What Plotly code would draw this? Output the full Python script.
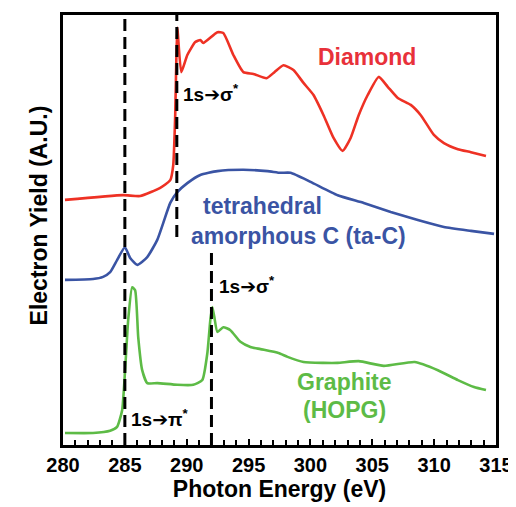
import plotly.graph_objects as go

# ---------------- data ----------------
diamond_e = [280.16, 284.86, 286.24, 287.86, 288.67, 288.91, 289.07, 289.15, 289.24, 289.56,
             290.05, 290.69, 291.10, 291.34, 292.48, 292.96, 293.77, 294.58, 295.39, 296.45,
             297.09, 297.82, 298.63, 299.44, 300.25, 301.06, 301.87, 302.60, 303.25, 303.90,
             304.63, 305.52, 306.25, 307.06, 308.11, 308.92, 309.98, 310.79, 311.92, 312.97, 314.19]
diamond_y = [0.570, 0.581, 0.579, 0.598, 0.616, 0.651, 0.767, 0.884, 0.970, 0.867,
             0.907, 0.937, 0.942, 0.935, 0.960, 0.958, 0.907, 0.867, 0.863, 0.853,
             0.867, 0.883, 0.872, 0.842, 0.814, 0.767, 0.714, 0.684, 0.714, 0.767,
             0.814, 0.856, 0.833, 0.807, 0.791, 0.767, 0.721, 0.702, 0.688, 0.681, 0.672]

tac_e = [280.16, 282.43, 283.24, 283.81, 284.37, 285.00, 285.43, 286.00, 286.81, 287.62,
         288.10, 288.67, 289.24, 290.05, 291.10, 292.48, 294.58, 296.53, 297.58, 298.39,
         300.01, 302.20, 304.31, 306.49, 308.68, 310.79, 312.97, 314.84]
tac_y = [0.384, 0.386, 0.391, 0.402, 0.430, 0.460, 0.435, 0.419, 0.437, 0.477,
         0.516, 0.563, 0.588, 0.609, 0.628, 0.637, 0.640, 0.637, 0.633, 0.633,
         0.612, 0.581, 0.563, 0.542, 0.523, 0.507, 0.498, 0.491]

graphite_e = [280.16, 282.43, 283.81, 284.37, 284.78, 285.02, 285.27, 285.59, 285.83, 286.08,
              286.40, 286.81, 287.62, 289.24, 290.53, 291.26, 291.67, 291.91, 292.07, 292.23,
              292.48, 292.96, 293.53, 294.34, 295.15, 295.96, 297.42, 298.15, 299.44, 301.06,
              302.20, 303.90, 305.93, 308.43, 310.30, 311.92, 313.22, 314.19]
graphite_y = [0.028, 0.028, 0.033, 0.042, 0.081, 0.174, 0.291, 0.367, 0.360, 0.251,
              0.174, 0.144, 0.144, 0.140, 0.140, 0.151, 0.214, 0.291, 0.321, 0.298,
              0.263, 0.274, 0.267, 0.240, 0.228, 0.223, 0.214, 0.205, 0.193, 0.191,
              0.191, 0.195, 0.184, 0.193, 0.174, 0.151, 0.135, 0.128]

# transition markers: energy (eV), vertical extent (fraction of plot height)
marker_e = [285.0, 289.2, 292.0]
marker_y0 = [0.0, 0.484, 0.0]
marker_y1 = [1.0, 1.0, 0.449]

x_ticks = [280, 285, 290, 295, 300, 305, 310, 315]

RED = "#EE3124"
BLUE = "#3A54A4"
GREEN = "#5DBB46"
FONT = "Liberation Sans"

fig = go.Figure()
for ex, ey, col in [(diamond_e, diamond_y, RED), (tac_e, tac_y, BLUE), (graphite_e, graphite_y, GREEN)]:
    fig.add_trace(go.Scatter(x=ex, y=ey, mode="lines", line=dict(color=col, width=2.6, shape="spline", smoothing=0.5),
                             showlegend=False, hoverinfo="skip"))

for e, y0, y1 in zip(marker_e, marker_y0, marker_y1):
    fig.add_shape(type="line", xref="x", yref="y", x0=e, x1=e, y0=y0, y1=y1,
                  line=dict(color="black", width=3, dash="12px,6px"))

def txt(x, y, s, color, size, xanchor="center"):
    fig.add_annotation(x=x, y=y, xref="x", yref="y", text=s, showarrow=False, xanchor=xanchor, yanchor="middle",
                       font=dict(family=FONT, size=size, color=color, weight="bold"))

ARROW = "<span style='font-family:\"DejaVu Sans\"'>➔</span>"

txt(304.55, 0.902, "Diamond", "#E8313A", 23)
txt(296.16, 0.556, "tetrahedral", BLUE, 23)
txt(299.04, 0.486, "amorphous C (ta-C)", BLUE, 23)
txt(302.73, 0.147, "Graphite", GREEN, 23)
txt(302.77, 0.081, "(HOPG)", GREEN, 23)
txt(289.55, 0.818, "1s" + ARROW + "σ<sup>*</sup>", "black", 19, "left")
txt(292.45, 0.372, "1s" + ARROW + "σ<sup>*</sup>", "black", 19, "left")
txt(285.35, 0.062, "1s" + ARROW + "π<sup>*</sup>", "black", 19, "left")

fig.add_annotation(x=-0.09, y=0.534, xref="paper", yref="paper", text="Electron Yield (A.U.)", textangle=-90,
                   showarrow=False, font=dict(family=FONT, size=23, color="black", weight="bold"))

# the page body adds an 8 px offset, so margins are shifted by 8 px to land where the reference frame is
fig.update_layout(
    width=516, height=507, margin=dict(l=55, r=28, t=7, b=70, autoexpand=False),
    plot_bgcolor="white", paper_bgcolor="white",
    xaxis=dict(range=[280, 315], tickvals=x_ticks, ticks="inside", ticklen=6, tickwidth=2, tickcolor="black",
               minor=dict(dtick=1, ticks="inside", ticklen=5, tickwidth=2, tickcolor="black"),
               showline=True, linewidth=3, linecolor="black", mirror=True, showgrid=False, zeroline=False,
               automargin=False,
               tickfont=dict(family=FONT, size=20, color="black", weight="bold"),
               title=dict(text="Photon Energy (eV)", standoff=6,
                          font=dict(family=FONT, size=23, color="black", weight="bold"))),
    yaxis=dict(range=[0, 1], showticklabels=False, ticks="", showline=True, linewidth=3, linecolor="black",
               mirror=True, showgrid=False, zeroline=False, automargin=False),
)

fig.write_html("out.html")
